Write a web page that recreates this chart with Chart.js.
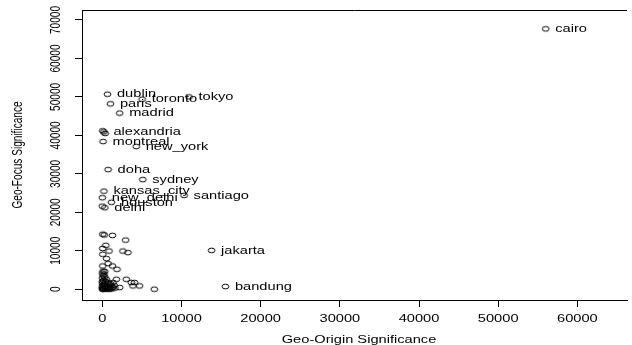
<!DOCTYPE html>
<html><head><meta charset="utf-8">
<script src="https://cdn.jsdelivr.net/npm/chart.js@4"></script>
<style>html,body{margin:0;padding:0;background:#fff}#wrap{width:632px;height:345px}</style>
</head><body><div id="wrap"><canvas id="c" width="632" height="345"></canvas></div>
<script>
// ---- data ----
const cityNames = [
  'cairo','dublin','paris','toronto','tokyo','madrid','alexandria','montreal','new_york',
  'doha','sydney','kansas_city','santiago','new_delhi','houston','delhi','jakarta','bandung',
  '','','','',
  '','','','','','','','','','','','','','','','','','','','','','','','','',
  '','','','','','','','','','','','','','','','','','','','','','','','','','','','','','','','','','','','',''
];
const geoOrigin = [
  56000, 650, 1030, 5030, 10950, 2190, 200, 100, 4280,
  730, 5110, 200, 10330, 0, 1150, 310, 13800, 15550,
  50, 350, 0, 250,
  50, 1280, 2940, 440, 50, 850, 2600, 3230, 50, 530, 50, 730, 1280, 1850, 1780, 3030, 3660, 4070, 4700, 3860, 2190, 6570, 1350, 300, 100,
  0, 200, 100, 300, 0, 500, 150, 400, 700, 0, 250, 900, 100, 600, 1100, 0, 350, 800, 1300, 50, 500, 1000, 200, 700, 0, 400, 1200, 150, 900, 600, 50, 300, 0, 1000, 1500, 1600
];
const geoFocus = [
  67700, 50700, 48200, 49400, 50000, 45800, 40900, 38400, 37100,
  31100, 28500, 25500, 24400, 23800, 22600, 21200, 10100, 700,
  41200, 40500, 21600, 14100,
  14300, 14000, 12780, 11410, 10600, 9930, 9930, 9520, 9080, 7960, 6040, 6660, 6040, 5190, 2590, 2590, 1740, 1740, 860, 860, 440, 0, 1740, 4600, 4700,
  4200, 3900, 3500, 3200, 2900, 2600, 2300, 2000, 1800, 1600, 1400, 1200, 1100, 900, 800, 700, 600, 500, 450, 400, 300, 250, 200, 150, 100, 80, 60, 30, 20, 0, 0, 1000, 2000, 1500, 1000, 300
];
const xTickValues = [0, 10000, 20000, 30000, 40000, 50000, 60000];
const yTickValues = [0, 10000, 20000, 30000, 40000, 50000, 60000, 70000];
const xTitle = 'Geo-Origin Significance';
const yTitle = 'Geo-Focus Significance';

// ---- style ----
const K = 1.45;              // horizontal stretch of the reference picture
const FONT = '10.1px "Liberation Sans", Arial, sans-serif';

function makeMarker() {
  const cv = document.createElement('canvas');
  cv.width = 11; cv.height = 9;
  const c = cv.getContext('2d');
  c.strokeStyle = '#000';
  c.lineWidth = 1;
  c.beginPath();
  c.ellipse(5.5, 4.5, 3.4, 2.35, 0, 0, Math.PI * 2);
  c.stroke();
  return cv;
}

const points = geoOrigin.map((x, i) => ({ x: x, y: geoFocus[i], name: cityNames[i] || '' }));

function hText(ctx, text, x, y, align) {
  ctx.save();
  ctx.translate(x, y);
  ctx.scale(K, 1);
  ctx.textAlign = align;
  ctx.textBaseline = 'alphabetic';
  ctx.fillText(text, 0, 0);
  ctx.restore();
}
function vText(ctx, text, x, y) {
  ctx.save();
  ctx.translate(x, y);
  ctx.scale(K, 1);
  ctx.rotate(-Math.PI / 2);
  ctx.textAlign = 'center';
  ctx.textBaseline = 'alphabetic';
  ctx.fillText(text, 0, 0);
  ctx.restore();
}

const textPlugin = {
  id: 'rtext',
  afterDraw(chart) {
    const ctx = chart.ctx;
    const xs = chart.scales.x, ys = chart.scales.y, a = chart.chartArea;
    ctx.save();
    ctx.strokeStyle = '#000';
    ctx.lineWidth = 1;
    ctx.beginPath();
    ctx.moveTo(a.left, Math.round(a.top) + 0.5);
    ctx.lineTo(a.right, Math.round(a.top) + 0.5);
    ctx.stroke();
    ctx.fillStyle = '#000';
    ctx.font = FONT;
    xTickValues.forEach(v => hText(ctx, String(v), xs.getPixelForValue(v), 322, 'center'));
    yTickValues.forEach(v => vText(ctx, String(v), 60, ys.getPixelForValue(v)));
    hText(ctx, xTitle, 359, 343, 'center');
    vText(ctx, yTitle, 22, (a.top + a.bottom) / 2);
    points.forEach(p => {
      if (!p.name) return;
      const px = xs.getPixelForValue(p.x), py = ys.getPixelForValue(p.y);
      hText(ctx, p.name, px + 9.5, py + 3.2, 'left');
    });
    ctx.restore();
  }
};

new Chart(document.getElementById('c'), {
  type: 'scatter',
  data: {
    datasets: [{
      data: points,
      pointStyle: makeMarker(),
      pointRadius: 4,
      borderColor: '#000',
      backgroundColor: 'rgba(0,0,0,0)'
    }]
  },
  options: {
    responsive: false,
    animation: false,
    devicePixelRatio: 1,
    layout: { padding: { top: 10, left: 0, right: 0, bottom: 0 } },
    plugins: { legend: { display: false }, tooltip: { enabled: false } },
    scales: {
      x: {
        type: 'linear', position: 'bottom', min: -2566, max: 66270,
        afterBuildTicks: s => { s.ticks = xTickValues.map(v => ({ value: v })); },
        afterFit: s => { s.height = 45; },
        ticks: { display: false },
        grid: { display: true, drawOnChartArea: false, drawTicks: true, tickLength: 7, color: '#000', lineWidth: 1 },
        border: { display: true, color: '#000', width: 1 }
      },
      y: {
        type: 'linear', position: 'left', min: -2800, max: 72600,
        afterBuildTicks: s => { s.ticks = yTickValues.map(v => ({ value: v })); },
        afterFit: s => { s.width = 82; },
        ticks: { display: false },
        grid: { display: true, drawOnChartArea: false, drawTicks: true, tickLength: 7, color: '#000', lineWidth: 1 },
        border: { display: true, color: '#000', width: 1 }
      }
    }
  },
  plugins: [textPlugin]
});
</script>
</body></html>
